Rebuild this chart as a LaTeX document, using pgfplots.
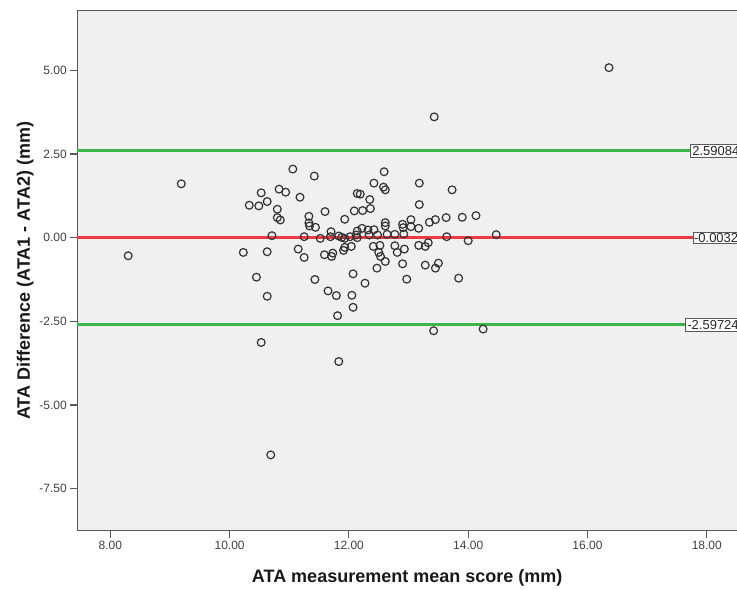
\documentclass[border=0pt]{standalone}
\usepackage{fontspec}
\setmainfont{Liberation Sans}
\usepackage{pgfplots}
\pgfplotsset{compat=1.18}
\definecolor{bgc}{HTML}{F0F0F0}
\definecolor{frm}{HTML}{5A5A5A}
\definecolor{tkl}{HTML}{404040}
\definecolor{loagreen}{HTML}{3CB54A}
\definecolor{meanred}{HTML}{EC3B44}
\definecolor{mk}{HTML}{333333}
\begin{document}
\begin{tikzpicture}
\begin{axis}[
  scale only axis,
  width=659.7pt, height=520pt,
  xmin=7.447, xmax=18.506,
  ymin=-8.754, ymax=6.782,
  axis lines*=left,
  axis line style={frm, line width=1.5pt},
  axis background/.style={fill=bgc},
  tick align=outside,
  major tick length=7pt,
  tick style={frm, line width=1.2pt},
  xtick={8,10,12,14,16,18},
  xticklabels={8.00,10.00,12.00,14.00,16.00,18.00},
  ytick={-7.5,-5,-2.5,0,2.5,5},
  yticklabels={-7.50,-5.00,-2.50,0.00,2.50,5.00},
  ticklabel style={font=\fontsize{12}{14}\selectfont, text=tkl},
  xlabel={ATA measurement mean score (mm)},
  ylabel={ATA Difference (ATA1 - ATA2) (mm)},
  every axis x label/.style={at={(axis description cs:0.5,0)}, anchor=base, yshift=-52.3pt, font=\fontsize{18}{21}\selectfont\bfseries, text=black!90},
  every axis y label/.style={at={(axis description cs:0,0.5)}, anchor=base, rotate=90, yshift=47.3pt, font=\fontsize{18}{21}\selectfont\bfseries, text=black!90},
  clip=false,
]
\coordinate (LL) at (rel axis cs:0,0);
\coordinate (UR) at (rel axis cs:1,1);
\draw[frm, line width=1.5pt] (rel axis cs:0,1) -- (rel axis cs:1,1);

\addplot[loagreen, line width=3pt] coordinates {(7.447,2.59084) (18.506,2.59084)};
\addplot[loagreen, line width=3pt] coordinates {(7.447,-2.59724) (18.506,-2.59724)};
\addplot[meanred, line width=3pt] coordinates {(7.447,-0.0032) (18.506,-0.0032)};

\addplot[only marks, mark=o, mark size=3.9pt, mark options={draw=mk, line width=1.2pt}] coordinates {
(8.30,-0.54) (9.19,1.61) (16.36,5.08) (13.43,3.61) (10.69,-6.49)
(10.53,-3.13) (11.83,-3.70) (11.81,-2.33) (12.07,-2.08) (13.42,-2.78)
(14.25,-2.73) (11.06,2.05) (11.42,1.84) (12.59,1.97) (13.18,1.63)
(13.73,1.43) (12.42,1.63) (12.58,1.51) (12.61,1.43) (10.53,1.34)
(10.83,1.45) (10.94,1.36) (11.18,1.21) (10.63,1.08) (10.33,0.97)
(10.49,0.95) (10.80,0.85) (10.80,0.60) (10.85,0.53) (11.60,0.78)
(12.14,1.32) (12.19,1.30) (12.35,1.14) (12.09,0.80) (12.23,0.81)
(12.36,0.87) (13.18,0.99) (11.93,0.55) (11.33,0.64) (11.33,0.44)
(11.34,0.35) (11.44,0.31) (12.61,0.45) (12.61,0.35) (12.90,0.40)
(13.04,0.54) (12.91,0.30) (13.04,0.33) (13.17,0.28) (13.35,0.46)
(13.45,0.54) (13.63,0.60) (13.90,0.61) (14.13,0.66) (12.22,0.28)
(12.32,0.23) (12.42,0.24) (12.14,0.20) (11.70,0.18) (12.12,0.08)
(10.71,0.06) (11.25,0.03) (11.52,-0.02) (11.69,0.03) (11.83,0.05)
(11.88,0.01) (11.93,-0.02) (12.02,0.03) (12.14,0.00) (12.34,0.08)
(12.48,0.08) (12.64,0.10) (12.77,0.10) (12.92,0.11) (13.64,0.03)
(14.47,0.09) (10.23,-0.44) (10.63,-0.42) (11.15,-0.34) (11.25,-0.59)
(11.59,-0.51) (11.71,-0.56) (11.73,-0.46) (11.91,-0.38) (11.93,-0.29)
(12.04,-0.26) (12.41,-0.26) (12.52,-0.23) (12.50,-0.44) (12.53,-0.56)
(12.61,-0.71) (12.77,-0.24) (12.81,-0.44) (12.93,-0.34) (13.17,-0.23)
(13.28,-0.26) (13.33,-0.15) (14.00,-0.09) (12.90,-0.78) (12.47,-0.91)
(13.28,-0.82) (13.45,-0.91) (13.50,-0.76) (10.45,-1.18) (11.43,-1.25)
(12.07,-1.08) (12.27,-1.36) (12.97,-1.24) (13.84,-1.21) (10.63,-1.75)
(11.65,-1.59) (11.79,-1.73) (12.05,-1.72)
};

\node[anchor=west, draw=frm, fill=white, line width=0.8pt, inner sep=2pt, font=\fontsize{13}{15}\selectfont, text=black!85] at (axis cs:17.718,2.59084) {2.59084};
\node[anchor=west, draw=frm, fill=white, line width=0.8pt, inner sep=1pt, font=\fontsize{13}{15}\selectfont, text=black!85] at (axis cs:17.763,-0.0032) {-0.0032};
\node[anchor=west, draw=frm, fill=white, line width=0.8pt, inner sep=2pt, font=\fontsize{13}{15}\selectfont, text=black!85] at (axis cs:17.634,-2.59724) {-2.59724};
\end{axis}
\pgfresetboundingbox
\path[use as bounding box] ([xshift=-77.3pt,yshift=-59.3pt]LL) rectangle ([yshift=10.7pt]UR);
\end{tikzpicture}
\end{document}
